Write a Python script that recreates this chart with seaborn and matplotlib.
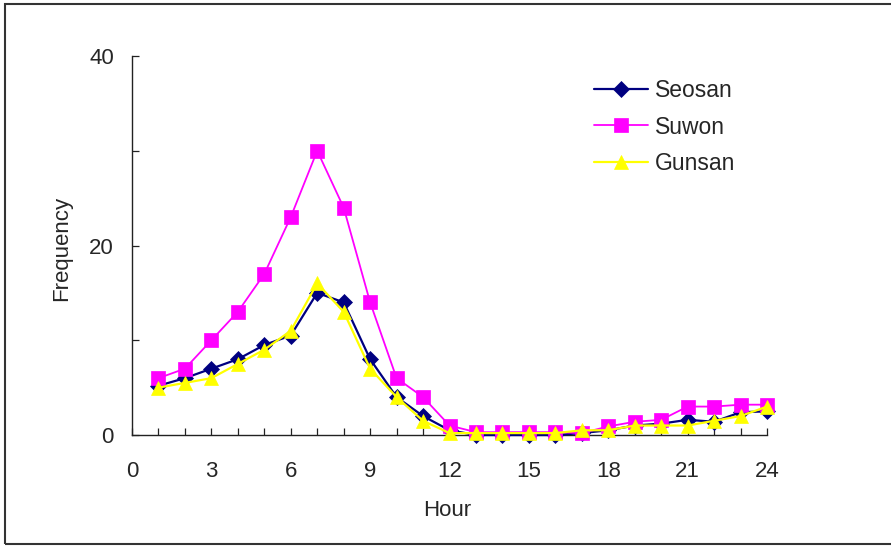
import matplotlib
matplotlib.use("Agg")
import matplotlib.pyplot as plt
from matplotlib.patches import Rectangle
import seaborn as sns
import pandas as pd

# Hourly frequency at three stations
hours = list(range(1, 25))
seosan = [5.2, 6.0, 7.0, 8.0, 9.5, 10.5, 15.0, 14.0, 8.0, 4.0, 2.0, 0.5,
          0.0, 0.0, 0.0, 0.0, 0.2, 0.5, 1.0, 1.2, 1.6, 1.4, 2.4, 2.5]
suwon = [6.0, 7.0, 10.0, 13.0, 17.0, 23.0, 30.0, 24.0, 14.0, 6.0, 4.0, 1.0,
         0.3, 0.3, 0.3, 0.3, 0.2, 0.9, 1.4, 1.6, 3.0, 3.0, 3.2, 3.2]
gunsan = [5.0, 5.5, 6.0, 7.5, 9.0, 11.0, 16.0, 13.0, 7.0, 4.0, 1.5, 0.2,
          0.2, 0.2, 0.2, 0.2, 0.5, 0.5, 1.0, 1.0, 1.0, 1.5, 2.0, 3.0]

station_names = ["Seosan", "Suwon", "Gunsan"]
x_ticks = list(range(0, 25))
x_labels = [str(h) if h % 3 == 0 else "" for h in x_ticks]
y_ticks = [0, 10, 20, 30, 40]
y_labels = ["0", "", "20", "", "40"]

sns.set_theme(style="white")
plt.rcParams["font.family"] = ["Liberation Sans", "DejaVu Sans"]

text_color = "#262626"
fs = 16
leg_fs = 16.5

fig = plt.figure(figsize=(8.91, 5.46), dpi=100)
ax = fig.add_axes([132 / 891, 1 - 435 / 546, 635 / 891, 379 / 546])

styles = {
    "Seosan": dict(color="#000080", marker="D", ms=8.5, lw=1.6),
    "Suwon": dict(color="#FF00FF", marker="s", ms=10, lw=1.3),
    "Gunsan": dict(color="#FFFF00", marker="^", ms=10.5, lw=1.6),
}
series = {"Seosan": seosan, "Suwon": suwon, "Gunsan": gunsan}

for z, name in enumerate(station_names):
    df = pd.DataFrame({"Hour": hours, "Frequency": series[name]})
    st = styles[name]
    sns.lineplot(data=df, x="Hour", y="Frequency", ax=ax, color=st["color"],
                 marker=st["marker"], markersize=st["ms"], linewidth=st["lw"],
                 markeredgecolor=st["color"], markeredgewidth=0.5,
                 label=name, zorder=3 + z, clip_on=False)

ax.set_xlim(0, 24)
ax.set_ylim(0, 40)
ax.set_xticks(x_ticks)
ax.set_xticklabels(x_labels)
ax.set_yticks(y_ticks)
ax.set_yticklabels(y_labels)

for side in ["top", "right"]:
    ax.spines[side].set_visible(False)
for side in ["left", "bottom"]:
    ax.spines[side].set_color("#222222")
    ax.spines[side].set_linewidth(1.0)

ax.tick_params(axis="both", direction="in", length=5, width=0.9,
               color="#222222", labelcolor=text_color, labelsize=fs)
ax.tick_params(axis="y", pad=13, left=True)
ax.tick_params(axis="x", pad=18.5, bottom=True)

ax.set_xlabel("Hour", fontsize=fs, color=text_color)
ax.set_ylabel("Frequency", fontsize=fs, color=text_color)
ax.xaxis.label.set_va("center")
ax.yaxis.label.set_va("center")
ax.xaxis.set_label_coords(315 / 635, -76 / 379)
ax.yaxis.set_label_coords(-70 / 635, 187 / 379)

leg = ax.legend(loc="center left", bbox_to_anchor=(594 / 891, 1 - 127 / 546),
                bbox_transform=fig.transFigure, frameon=False, fontsize=leg_fs,
                handlelength=2.36, handletextpad=0.3, labelspacing=0.6,
                borderpad=0, borderaxespad=0)
for t in leg.get_texts():
    t.set_color(text_color)

# Frame around the whole figure
fig.add_artist(Rectangle((5 / 891, 1 - 544 / 546), 900 / 891, 540 / 546,
                         transform=fig.transFigure, fill=False,
                         edgecolor="#333333", linewidth=1.5))

fig.savefig("out.png", dpi=100)
